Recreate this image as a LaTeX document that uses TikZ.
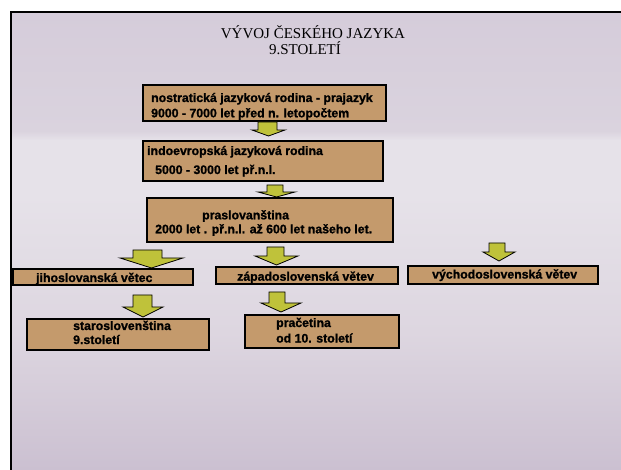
\documentclass[tikz,border=0pt]{standalone}
\usepackage{fontspec}
\setmainfont{Liberation Serif}
\newfontfamily\boxfont{Liberation Sans Bold}[FakeBold=1.2]
\definecolor{boxtan}{HTML}{C49A6C}
\definecolor{arrowyel}{HTML}{BFC23A}
\definecolor{bgtop}{HTML}{D5CCDA}
\definecolor{bgband}{HTML}{DAD3DE}
\definecolor{bglight}{HTML}{E6E2E9}
\definecolor{bgmid}{HTML}{DDD6E0}
\definecolor{bgbot}{HTML}{CBC0D1}
\pgfdeclareverticalshading{slidebg}{100bp}{color(0bp)=(bgbot); color(25bp)=(bgbot); color(40bp)=(bgmid); color(55bp)=(bglight); color(61bp)=(bglight); color(62bp)=(bgband); color(75bp)=(bgtop); color(100bp)=(bgtop)}
\tikzset{
  boxst/.style={draw=black, line width=1.8pt, fill=boxtan, anchor=north west, inner sep=0pt, outer sep=0pt},
  txt/.style={anchor=base west, inner sep=0pt, font=\boxfont\fontsize{12.3}{14}\selectfont},
  titlest/.style={anchor=base, inner sep=0pt, font=\fontsize{15}{18}\selectfont},
  blockarrow/.style={draw=black, line width=0.8pt, fill=arrowyel, line join=miter}
}
\newcommand\blockarr[8]{% name, shaftL, shaftR, headL, headR, top, headtop, tip
  \coordinate (#1) at ({(#4+#5)/2},#8);
  \path[blockarrow] (#2,#6) -- (#3,#6) -- (#3,#7) -- (#5,#7) -- ({(#4+#5)/2},#8) -- (#4,#7) -- (#2,#7) -- cycle;
}
\begin{document}
\begin{tikzpicture}[x=1pt,y=-1pt]
\useasboundingbox (0,0) rectangle (621,470);
\fill[white] (0,0) rectangle (621,470);
\shade[shading=slidebg] (11,12) rectangle (621,470);
\draw[black, line width=2pt] (11,470) -- (11,12) -- (621,12);
% title
\node[titlest] (t1) at (313,38.5) {VÝVOJ ČESKÉHO JAZYKA};
\node[titlest] (t2) at (305,54.3) {9.STOLETÍ};
% boxes
\node[boxst, minimum width=243pt, minimum height=36pt] (b1) at (143,85) {};
\node[boxst, minimum width=240pt, minimum height=40pt] (b2) at (143,141) {};
\node[boxst, minimum width=246pt, minimum height=44pt] (b3) at (147,198) {};
\node[boxst, minimum width=180pt, minimum height=16pt] (jiho) at (13,269) {};
\node[boxst, minimum width=182pt, minimum height=17pt] (zapad) at (216,267) {};
\node[boxst, minimum width=190pt, minimum height=18pt] (vychod) at (408,266) {};
\node[boxst, minimum width=182pt, minimum height=31pt] (staro) at (27,319) {};
\node[boxst, minimum width=154pt, minimum height=33pt] (prac) at (245,315) {};
% texts
\node[txt] (b1a) at (151,102) {nostratická jazyková rodina - prajazyk};
\node[txt] (b1b) at (151,117.3) {9000 - 7000 let před n. letopočtem};
\node[txt] (b2a) at (147,155) {indoevropská jazyková rodina};
\node[txt] (b2b) at (155,174) {5000 - 3000 let př.n.l.};
\node[txt] (b3a) at (202,219.3) {praslovanština};
\node[txt] (b3b) at (155,233.3) {2000 let . př.n.l. až 600 let našeho let.};
\node[txt] (jihot) at (36,282) {jihoslovanská větec};
\node[txt] (zapadt) at (237,280.7) {západoslovenská větev};
\node[txt] (vychodt) at (432,278.5) {východoslovenská větev};
\node[txt] (starot1) at (73,330) {staroslovenština};
\node[txt] (starot2) at (73,344) {9.století};
\node[txt] (pract1) at (276,327) {pračetina};
\node[txt] (pract2) at (276,342.5) {od 10. století};
% arrows
\blockarr{a1}{258}{277}{252}{285}{122}{130}{136}
\blockarr{a2}{267}{283}{258}{295}{185}{192}{197}
\blockarr{a3}{133}{162}{120}{183}{250}{258}{268}
\blockarr{a4}{267}{284}{255}{298}{247}{256}{265}
\blockarr{a5}{489}{505}{483}{515}{243}{252}{261}
\blockarr{a6}{133}{152}{123}{163}{295}{307}{317}
\blockarr{a7}{269}{285}{261}{301}{292}{303}{312}
\end{tikzpicture}
\end{document}
